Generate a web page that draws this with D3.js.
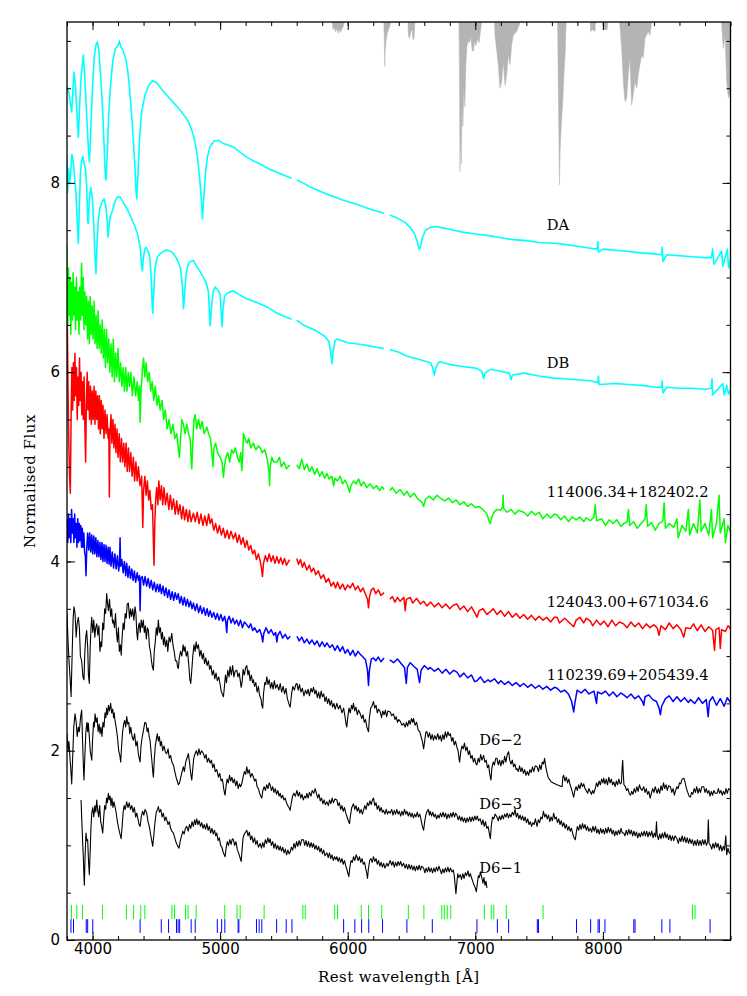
<!DOCTYPE html>
<html><head><meta charset="utf-8">
<script src="https://cdn.jsdelivr.net/npm/d3@7"></script>
<style>body{margin:0;background:#fff}svg{display:block}</style>
</head><body><svg id="c" width="747" height="996"></svg>
<script>
// ---------------- DATA ----------------
const xTicks=[4000,5000,6000,7000,8000];
const yTicks=[0,2,4,6,8];
const xLabel="Rest wavelength [Å]";
const yLabel="Normalised Flux";

const specDA=[[3800,9.02],[3815,8.95],[3825,8.85],[3837,8.75],[3845,8.95],[3855,9.17],[3865,9.05],[3875,8.8],[3889,8.48],[3900,8.85],[3912,9.15],[3928,9.35],[3940,9.1],[3955,8.7],[3968,8.35],[3975,8.22],[3985,8.5],[3998,8.95],[4012,9.3],[4025,9.45],[4038,9.49],[4050,9.4],[4065,9.1],[4080,8.75],[4092,8.35],[4101,8.05],[4106,8.03],[4115,8.3],[4128,8.75],[4142,9.05],[4160,9.3],[4180,9.42],[4200,9.45],[4210,9.5],[4222,9.44],[4240,9.4],[4258,9.32],[4275,9.2],[4290,9.0],[4305,8.75],[4320,8.45],[4333,8.15],[4342,7.9],[4347,7.83],[4355,8.05],[4368,8.45],[4385,8.75],[4410,8.92],[4440,9.03],[4470,9.08],[4500,9.06],[4530,9.01],[4560,8.96],[4600,8.9],[4640,8.84],[4680,8.78],[4720,8.71],[4750,8.65],[4780,8.55],[4800,8.45],[4820,8.3],[4840,8.05],[4855,7.78],[4862,7.62],[4870,7.8],[4885,8.1],[4900,8.27],[4920,8.38],[4950,8.44],[4987,8.45],[5020,8.42],[5060,8.40],[5104,8.38],[5150,8.33],[5200,8.28],[5250,8.24],[5314,8.20],[5380,8.15],[5450,8.11],[5500,8.08],[5560,8.05],[5580,null],[5600,8.03],[5650,8.0],[5700,7.96],[5770,7.92],[5837,7.88],[5900,7.85],[5960,7.82],[6030,7.79],[6098,7.76],[6160,7.73],[6230,7.70],[6285,7.68],[6310,null],[6330,7.66],[6400,7.62],[6450,7.58],[6490,7.53],[6520,7.47],[6545,7.38],[6560,7.3],[6570,7.32],[6585,7.42],[6610,7.5],[6647,7.53],[6700,7.54],[6725,7.53],[6800,7.51],[6900,7.48],[7000,7.46],[7118,7.44],[7200,7.42],[7300,7.40],[7400,7.39],[7500,7.37],[7641,7.36],[7700,7.35],[7800,7.33],[7900,7.31],[7955,7.30],[7960,7.38],[7965,7.27],[8000,7.30],[8163,7.28],[8300,7.26],[8400,7.25],[8460,7.24],[8465,7.32],[8470,7.17],[8500,7.24],[8600,7.23],[8700,7.22],[8800,7.21],[8850,7.21],[8860,7.3],[8870,7.14],[8900,7.21],[8930,7.28],[8940,7.12],[8960,7.22],[8975,7.3],[8985,7.1],[9000,7.19]];

const specDB=[[3800,8.3],[3805,7.9],[3812,8.15],[3820,8.0],[3828,8.1],[3838,8.3],[3850,8.22],[3860,8.05],[3870,7.9],[3880,7.6],[3889,7.36],[3897,7.75],[3905,8.1],[3915,8.24],[3925,8.28],[3935,8.2],[3945,8.15],[3955,7.95],[3962,7.6],[3967,7.57],[3975,7.82],[3986,7.95],[3998,7.85],[4010,7.55],[4020,7.2],[4027,7.04],[4035,7.35],[4045,7.6],[4059,7.74],[4075,7.8],[4090,7.83],[4105,7.75],[4115,7.6],[4122,7.43],[4130,7.55],[4140,7.65],[4155,7.7],[4175,7.8],[4195,7.85],[4216,7.85],[4240,7.8],[4260,7.75],[4280,7.7],[4300,7.64],[4330,7.55],[4355,7.45],[4375,7.3],[4385,7.12],[4391,7.07],[4398,7.2],[4410,7.3],[4420,7.32],[4435,7.28],[4448,7.22],[4460,7.0],[4468,6.7],[4472,6.62],[4478,6.8],[4490,7.1],[4508,7.22],[4530,7.25],[4560,7.28],[4582,7.29],[4610,7.28],[4630,7.26],[4660,7.2],[4690,7.1],[4705,6.9],[4713,6.67],[4720,6.8],[4735,7.05],[4751,7.15],[4770,7.17],[4791,7.18],[4815,7.12],[4840,7.07],[4869,7.0],[4890,6.95],[4908,6.85],[4918,6.6],[4923,6.49],[4930,6.65],[4945,6.85],[4961,6.9],[4987,6.86],[5000,6.82],[5010,6.6],[5016,6.48],[5022,6.65],[5035,6.8],[5052,6.83],[5080,6.85],[5104,6.86],[5150,6.82],[5200,6.78],[5260,6.75],[5314,6.72],[5380,6.68],[5450,6.62],[5500,6.59],[5560,6.56],[5580,null],[5600,6.55],[5650,6.5],[5700,6.47],[5750,6.44],[5784,6.41],[5820,6.38],[5850,6.33],[5866,6.22],[5876,6.09],[5884,6.2],[5900,6.33],[5915,6.35],[5960,6.33],[6000,6.31],[6060,6.3],[6120,6.29],[6200,6.27],[6285,6.25],[6310,null],[6330,6.24],[6400,6.21],[6460,6.17],[6520,6.15],[6595,6.12],[6650,6.1],[6665,6.05],[6678,5.97],[6690,6.04],[6710,6.1],[6725,6.11],[6800,6.08],[6900,6.06],[7013,6.04],[7050,6.01],[7065,5.93],[7075,5.99],[7118,6.03],[7200,6.01],[7265,5.99],[7281,5.92],[7290,5.97],[7379,5.99],[7500,5.96],[7600,5.94],[7700,5.93],[7800,5.92],[7902,5.91],[7960,5.89],[7965,5.96],[7970,5.87],[8100,5.88],[8200,5.87],[8300,5.86],[8425,5.84],[8460,5.84],[8465,5.91],[8470,5.78],[8500,5.84],[8600,5.83],[8700,5.83],[8800,5.82],[8850,5.83],[8855,5.93],[8860,5.76],[8900,5.82],[8940,5.88],[8950,5.76],[8970,5.86],[8985,5.77],[9000,5.81]];

const specG=[[3800,7.35],[3806,6.5],[3812,7.1],[3818,6.6],[3824,7.0],[3830,6.4],[3836,6.95],[3842,6.55],[3848,7.05],[3855,6.6],[3861,6.9],[3867,6.45],[3874,7.0],[3880,6.55],[3887,6.85],[3894,6.4],[3900,6.9],[3907,6.55],[3914,7.15],[3920,6.6],[3927,7.0],[3933,6.45],[3940,6.85],[3947,6.5],[3954,6.8],[3961,6.35],[3968,6.75],[3975,6.3],[3982,6.8],[3990,6.4],[3997,6.7],[4004,6.35],[4012,6.75],[4020,6.3],[4028,6.6],[4036,6.25],[4044,6.65],[4052,6.25],[4060,6.5],[4068,6.2],[4076,6.55],[4085,6.15],[4093,6.45],[4101,6.05],[4110,6.45],[4118,6.1],[4127,6.35],[4136,6.0],[4145,6.3],[4154,5.95],[4163,6.35],[4172,5.9],[4181,6.2],[4190,5.95],[4200,6.25],[4210,5.9],[4220,6.1],[4230,5.85],[4240,6.05],[4250,5.8],[4260,6.05],[4270,5.8],[4280,6.0],[4290,5.85],[4300,6.0],[4312,5.75],[4325,5.95],[4338,5.75],[4350,5.9],[4360,5.7],[4368,5.85],[4373,5.47],[4380,5.8],[4390,6.0],[4400,6.15],[4410,5.95],[4420,6.1],[4432,5.9],[4444,6.0],[4456,5.8],[4468,5.9],[4480,5.7],[4492,5.85],[4505,5.65],[4518,5.75],[4530,5.6],[4545,5.7],[4558,5.5],[4570,5.6],[4585,5.4],[4600,5.5],[4615,5.35],[4630,5.45],[4645,5.3],[4660,5.35],[4672,5.2],[4681,5.1],[4690,5.3],[4700,5.5],[4712,5.45],[4725,5.35],[4739,5.45],[4752,5.35],[4765,5.3],[4774,5.05],[4778,4.98],[4784,5.2],[4795,5.5],[4805,5.55],[4817,5.4],[4830,5.5],[4845,5.4],[4860,5.48],[4875,5.35],[4896,5.42],[4910,5.35],[4925,5.3],[4935,5.15],[4944,5.0],[4952,5.2],[4965,5.25],[4980,5.15],[5000,5.1],[5015,5.05],[5026,4.89],[5034,5.0],[5045,5.1],[5060,5.15],[5075,5.05],[5090,5.18],[5104,5.14],[5120,5.2],[5135,5.1],[5150,5.05],[5162,5.15],[5170,4.96],[5176,5.1],[5183,5.35],[5195,5.3],[5210,5.25],[5225,5.3],[5240,5.2],[5260,5.25],[5280,5.18],[5300,5.22],[5314,5.2],[5330,5.15],[5350,5.18],[5370,5.08],[5383,4.95],[5387,4.8],[5393,5.0],[5405,5.1],[5420,5.05],[5445,5.05],[5465,5.1],[5480,5.0],[5500,5.05],[5520,4.98],[5545,5.02],[5575,null],[5600,5.02],[5620,4.98],[5640,5.08],[5660,4.97],[5680,5.03],[5700,4.95],[5720,5.0],[5740,4.92],[5760,4.98],[5780,4.9],[5800,4.95],[5820,4.88],[5837,4.93],[5855,4.87],[5875,4.9],[5890,4.8],[5900,4.88],[5920,4.85],[5940,4.9],[5960,4.82],[5980,4.86],[6000,4.8],[6014,4.73],[6025,4.8],[6045,4.85],[6065,4.82],[6085,4.87],[6105,4.8],[6125,4.84],[6150,4.78],[6175,4.82],[6200,4.77],[6225,4.8],[6250,4.75],[6270,4.79],[6285,4.76],[6310,null],[6330,4.75],[6350,4.78],[6380,4.72],[6410,4.76],[6440,4.7],[6464,4.74],[6490,4.68],[6520,4.72],[6550,4.66],[6580,4.63],[6595,4.58],[6610,4.66],[6640,4.69],[6670,4.65],[6700,4.7],[6725,4.67],[6760,4.64],[6790,4.67],[6820,4.62],[6850,4.65],[6880,4.6],[6910,4.63],[6940,4.58],[6970,4.61],[7000,4.57],[7030,4.58],[7060,4.55],[7090,4.5],[7110,4.42],[7118,4.4],[7130,4.47],[7150,4.53],[7170,4.55],[7196,4.54],[7215,4.58],[7218,4.7],[7222,4.56],[7250,4.52],[7280,4.55],[7310,4.5],[7340,4.54],[7379,4.52],[7410,4.48],[7440,4.53],[7470,4.49],[7500,4.52],[7530,4.45],[7560,4.5],[7590,4.46],[7620,4.5],[7641,4.49],[7670,4.44],[7700,4.48],[7730,4.42],[7760,4.47],[7790,4.44],[7820,4.47],[7850,4.42],[7870,4.46],[7902,4.43],[7930,4.47],[7940,4.6],[7950,4.43],[7990,4.45],[8020,4.38],[8050,4.44],[8080,4.4],[8110,4.44],[8140,4.37],[8163,4.4],[8190,4.42],[8200,4.55],[8210,4.38],[8240,4.42],[8270,4.35],[8300,4.4],[8330,4.45],[8340,4.6],[8350,4.37],[8380,4.41],[8410,4.33],[8440,4.4],[8470,4.43],[8480,4.62],[8490,4.35],[8520,4.4],[8555,4.36],[8580,4.45],[8590,4.25],[8620,4.38],[8650,4.32],[8670,4.55],[8680,4.28],[8710,4.4],[8740,4.3],[8760,4.65],[8770,4.32],[8800,4.4],[8830,4.28],[8850,4.55],[8860,4.25],[8890,4.4],[8910,4.7],[8920,4.3],[8950,4.45],[8960,4.2],[8980,4.38],[9000,4.31]];

const specR=[[3800,6.85],[3805,6.2],[3810,5.6],[3815,5.2],[3820,4.9],[3826,4.72],[3832,5.5],[3838,6.05],[3844,5.6],[3850,6.1],[3856,5.7],[3862,6.2],[3868,5.75],[3874,6.05],[3880,5.5],[3886,5.95],[3892,5.65],[3898,6.15],[3904,5.7],[3910,6.0],[3916,5.55],[3922,5.9],[3928,5.5],[3934,5.95],[3940,5.45],[3946,5.05],[3952,5.7],[3958,6.0],[3964,5.6],[3970,5.9],[3977,5.5],[3984,5.85],[3991,5.45],[3998,5.8],[4005,5.5],[4012,5.85],[4019,5.45],[4026,5.8],[4033,5.5],[4040,5.75],[4047,5.4],[4054,5.75],[4061,5.35],[4068,5.7],[4075,5.4],[4082,5.65],[4090,5.3],[4098,5.6],[4106,5.35],[4114,5.55],[4122,5.3],[4128,5.4],[4132,4.68],[4137,5.35],[4145,5.55],[4152,5.25],[4160,5.5],[4168,5.2],[4176,5.45],[4184,5.15],[4192,5.4],[4200,5.1],[4209,5.35],[4218,5.05],[4227,5.3],[4236,5.05],[4245,5.25],[4254,5.0],[4263,5.25],[4272,4.95],[4281,5.2],[4290,4.95],[4300,5.15],[4310,4.9],[4320,5.1],[4330,4.85],[4340,5.05],[4350,4.85],[4360,5.0],[4372,4.8],[4385,4.9],[4394,4.36],[4400,4.75],[4410,4.9],[4420,4.7],[4430,4.85],[4440,4.65],[4450,4.75],[4460,4.55],[4470,4.6],[4477,4.2],[4482,3.96],[4488,4.4],[4495,4.65],[4503,4.78],[4512,4.6],[4520,4.85],[4530,4.65],[4540,4.8],[4550,4.6],[4560,4.78],[4572,4.6],[4585,4.72],[4598,4.55],[4610,4.7],[4622,4.55],[4635,4.66],[4648,4.5],[4660,4.64],[4672,4.5],[4685,4.6],[4698,4.45],[4710,4.58],[4722,4.44],[4735,4.55],[4748,4.42],[4760,4.54],[4772,4.42],[4791,4.51],[4805,4.42],[4820,4.52],[4835,4.4],[4850,4.5],[4865,4.38],[4880,4.48],[4895,4.38],[4910,4.5],[4922,4.4],[4935,4.45],[4950,4.33],[4965,4.4],[4980,4.3],[4995,4.38],[5010,4.28],[5025,4.35],[5040,4.25],[5055,4.33],[5070,4.24],[5085,4.32],[5104,4.24],[5120,4.3],[5135,4.2],[5150,4.28],[5165,4.18],[5180,4.25],[5195,4.15],[5210,4.22],[5225,4.12],[5240,4.17],[5255,4.08],[5270,4.12],[5285,4.02],[5300,4.08],[5315,4.0],[5325,3.92],[5332,3.84],[5340,3.98],[5355,4.06],[5370,4.0],[5385,4.08],[5400,4.0],[5415,4.06],[5430,3.98],[5445,4.05],[5460,3.98],[5475,4.04],[5490,3.97],[5505,4.03],[5520,3.96],[5545,4.02],[5575,null],[5600,4.03],[5615,3.97],[5630,4.02],[5645,3.94],[5660,3.99],[5680,3.91],[5700,3.96],[5715,3.89],[5732,3.93],[5750,3.86],[5770,3.9],[5790,3.82],[5810,3.86],[5830,3.78],[5850,3.82],[5870,3.74],[5889,3.78],[5905,3.72],[5920,3.78],[5940,3.71],[5960,3.76],[5980,3.7],[6000,3.75],[6020,3.72],[6040,3.77],[6060,3.7],[6080,3.74],[6100,3.68],[6120,3.72],[6140,3.65],[6155,3.6],[6163,3.51],[6170,3.62],[6185,3.7],[6202,3.72],[6220,3.66],[6240,3.7],[6260,3.64],[6285,3.67],[6310,null],[6330,3.6],[6350,3.63],[6370,3.57],[6390,3.62],[6410,3.58],[6440,3.62],[6451,3.48],[6460,3.6],[6490,3.62],[6510,3.56],[6540,3.61],[6570,3.55],[6595,3.58],[6620,3.53],[6650,3.57],[6680,3.52],[6710,3.56],[6740,3.51],[6770,3.55],[6800,3.5],[6830,3.54],[6856,3.55],[6880,3.49],[6910,3.53],[6940,3.47],[6970,3.52],[6995,3.46],[7013,3.41],[7030,3.48],[7060,3.5],[7090,3.44],[7118,3.47],[7140,3.5],[7170,3.44],[7200,3.48],[7230,3.42],[7260,3.47],[7290,3.41],[7320,3.45],[7350,3.4],[7379,3.44],[7410,3.39],[7440,3.43],[7470,3.38],[7500,3.42],[7530,3.38],[7560,3.41],[7590,3.36],[7620,3.41],[7641,3.41],[7660,3.35],[7700,3.4],[7740,3.35],[7771,3.31],[7790,3.38],[7820,3.41],[7850,3.35],[7870,3.4],[7902,3.37],[7920,3.32],[7950,3.38],[7980,3.33],[8010,3.37],[8040,3.31],[8070,3.38],[8100,3.32],[8130,3.36],[8163,3.34],[8190,3.3],[8220,3.36],[8250,3.31],[8280,3.35],[8310,3.29],[8340,3.34],[8370,3.3],[8400,3.33],[8425,3.3],[8440,3.22],[8455,3.32],[8490,3.28],[8520,3.35],[8550,3.29],[8580,3.33],[8610,3.28],[8634,3.2],[8650,3.3],[8686,3.29],[8710,3.34],[8740,3.27],[8770,3.33],[8800,3.26],[8830,3.31],[8860,3.27],[8875,3.06],[8885,3.28],[8910,3.3],[8920,3.08],[8930,3.28],[8960,3.26],[8980,3.32],[9000,3.29]];

const specB=[[3800,4.45],[3806,4.2],[3812,4.5],[3818,4.25],[3824,4.45],[3830,4.2],[3836,4.55],[3842,4.3],[3848,4.45],[3854,4.2],[3860,4.5],[3866,4.25],[3872,4.4],[3878,4.15],[3884,4.45],[3890,4.2],[3896,4.4],[3902,4.22],[3908,4.38],[3914,4.15],[3920,4.35],[3926,4.15],[3932,4.3],[3938,4.1],[3944,4.05],[3949,3.85],[3955,4.15],[3962,4.3],[3970,4.12],[3978,4.3],[3986,4.1],[3994,4.28],[4002,4.08],[4010,4.27],[4018,4.08],[4026,4.25],[4034,4.05],[4042,4.22],[4050,4.05],[4058,4.2],[4066,4.02],[4074,4.2],[4082,4.0],[4090,4.18],[4098,4.0],[4106,4.17],[4114,3.98],[4122,4.15],[4130,3.97],[4137,4.15],[4145,3.95],[4155,4.1],[4165,3.93],[4175,4.08],[4185,3.92],[4195,4.06],[4205,3.9],[4212,4.0],[4216,4.25],[4220,3.95],[4230,4.02],[4240,3.88],[4250,4.0],[4260,3.85],[4268,3.98],[4278,3.83],[4288,3.95],[4298,3.82],[4308,3.92],[4318,3.8],[4328,3.9],[4338,3.78],[4350,3.88],[4360,3.8],[4368,3.85],[4373,3.48],[4378,3.82],[4390,3.84],[4400,3.75],[4412,3.84],[4424,3.74],[4436,3.82],[4448,3.72],[4460,3.8],[4472,3.7],[4484,3.78],[4496,3.68],[4508,3.76],[4520,3.68],[4529,3.76],[4540,3.66],[4552,3.74],[4564,3.64],[4576,3.72],[4588,3.62],[4600,3.7],[4612,3.6],[4624,3.68],[4636,3.59],[4648,3.67],[4660,3.6],[4672,3.66],[4684,3.56],[4696,3.63],[4708,3.54],[4720,3.62],[4732,3.53],[4744,3.6],[4756,3.52],[4768,3.58],[4780,3.5],[4791,3.56],[4805,3.48],[4818,3.55],[4832,3.46],[4845,3.53],[4858,3.45],[4872,3.51],[4885,3.43],[4898,3.5],[4910,3.42],[4922,3.48],[4936,3.41],[4950,3.46],[4964,3.39],[4978,3.45],[4992,3.38],[5006,3.44],[5020,3.37],[5036,3.42],[5045,3.35],[5052,3.25],[5058,3.38],[5072,3.42],[5086,3.35],[5100,3.4],[5115,3.34],[5130,3.38],[5145,3.32],[5160,3.38],[5175,3.3],[5190,3.36],[5209,3.33],[5225,3.3],[5240,3.34],[5255,3.27],[5270,3.3],[5290,3.25],[5310,3.28],[5325,3.22],[5334,3.15],[5342,3.24],[5360,3.3],[5380,3.24],[5400,3.28],[5420,3.22],[5435,3.25],[5445,3.15],[5452,3.22],[5470,3.26],[5490,3.19],[5510,3.23],[5530,3.18],[5550,3.21],[5575,null],[5602,3.21],[5620,3.16],[5640,3.2],[5660,3.14],[5680,3.18],[5700,3.13],[5720,3.17],[5740,3.12],[5760,3.16],[5780,3.1],[5800,3.15],[5820,3.1],[5837,3.14],[5860,3.09],[5880,3.12],[5900,3.06],[5920,3.11],[5940,3.05],[5960,3.1],[5980,3.03],[6000,3.07],[6020,3.01],[6040,3.06],[6060,3.0],[6080,3.05],[6098,3.02],[6120,2.99],[6140,2.96],[6155,2.85],[6163,2.69],[6170,2.85],[6185,2.97],[6202,2.98],[6220,2.95],[6240,2.99],[6260,2.94],[6285,2.98],[6310,null],[6330,2.96],[6360,2.93],[6390,2.97],[6420,2.92],[6445,2.88],[6459,2.71],[6468,2.88],[6490,2.93],[6520,2.89],[6545,2.86],[6563,2.72],[6575,2.85],[6600,2.9],[6630,2.86],[6647,2.88],[6680,2.84],[6710,2.87],[6740,2.82],[6770,2.86],[6800,2.81],[6830,2.85],[6856,2.83],[6880,2.78],[6910,2.82],[6940,2.77],[6970,2.8],[6995,2.73],[7013,2.74],[7040,2.78],[7070,2.72],[7100,2.75],[7118,2.73],[7150,2.76],[7180,2.71],[7200,2.74],[7230,2.7],[7260,2.73],[7290,2.69],[7320,2.72],[7350,2.68],[7379,2.71],[7410,2.67],[7440,2.7],[7470,2.66],[7500,2.69],[7530,2.65],[7560,2.68],[7590,2.64],[7620,2.67],[7641,2.66],[7670,2.62],[7700,2.64],[7730,2.6],[7755,2.52],[7771,2.41],[7780,2.5],[7798,2.64],[7830,2.61],[7860,2.65],[7890,2.6],[7930,2.63],[7950,2.5],[7958,2.62],[7990,2.6],[8020,2.63],[8050,2.58],[8080,2.62],[8110,2.57],[8140,2.61],[8163,2.59],[8190,2.56],[8220,2.6],[8250,2.55],[8280,2.58],[8310,2.52],[8320,2.48],[8330,2.57],[8360,2.59],[8390,2.54],[8420,2.52],[8440,2.45],[8451,2.38],[8460,2.47],[8490,2.55],[8520,2.58],[8550,2.52],[8580,2.57],[8610,2.52],[8640,2.56],[8670,2.51],[8686,2.54],[8720,2.5],[8750,2.56],[8780,2.5],[8810,2.54],[8825,2.36],[8835,2.52],[8860,2.57],[8890,2.48],[8920,2.55],[8950,2.47],[8975,2.56],[9000,2.51]];

const specD62=[[3800,3.45],[3810,3.1],[3818,2.9],[3825,2.75],[3832,2.57],[3840,3.0],[3848,3.4],[3855,3.52],[3863,3.45],[3872,3.2],[3880,3.35],[3889,3.41],[3897,3.3],[3905,3.0],[3915,2.95],[3925,2.78],[3933,2.75],[3940,3.05],[3947,3.2],[3954,3.27],[3962,3.1],[3968,2.8],[3975,2.71],[3982,3.1],[3988,3.3],[3994,3.41],[4002,3.25],[4010,3.38],[4018,3.2],[4025,3.3],[4033,3.34],[4042,3.22],[4050,3.32],[4058,3.05],[4066,3.15],[4072,3.1],[4080,3.35],[4088,3.28],[4095,3.5],[4103,3.45],[4111,3.66],[4118,3.55],[4125,3.48],[4133,3.6],[4142,3.42],[4150,3.5],[4157,3.35],[4163,3.38],[4172,3.3],[4180,3.45],[4188,3.25],[4195,3.15],[4203,3.3],[4210,3.05],[4218,3.12],[4225,3.01],[4232,3.2],[4240,3.35],[4248,3.28],[4256,3.45],[4264,3.4],[4272,3.55],[4281,3.56],[4290,3.4],[4298,3.5],[4306,3.42],[4315,3.5],[4324,3.38],[4333,3.52],[4340,3.45],[4347,3.25],[4353,3.17],[4359,3.3],[4366,3.35],[4374,3.25],[4382,3.38],[4390,3.3],[4398,3.38],[4406,3.25],[4414,3.32],[4422,3.18],[4430,3.3],[4438,3.27],[4446,3.1],[4454,3.05],[4462,2.95],[4470,2.88],[4477,2.85],[4484,3.05],[4492,3.15],[4500,3.3],[4508,3.22],[4516,3.38],[4524,3.25],[4532,3.3],[4540,3.18],[4548,3.25],[4556,3.12],[4564,3.2],[4572,3.1],[4582,3.17],[4590,3.05],[4600,3.2],[4610,3.15],[4621,3.24],[4630,3.12],[4640,3.05],[4650,2.95],[4660,2.95],[4667,2.88],[4673,2.87],[4680,2.98],[4690,3.05],[4700,3.0],[4710,3.12],[4718,3.05],[4725,3.1],[4735,3.0],[4745,3.05],[4755,2.9],[4763,2.75],[4770,2.71],[4778,2.85],[4786,3.0],[4795,3.12],[4804,3.05],[4812,3.15],[4820,3.08],[4830,3.12],[4840,3.0],[4850,3.06],[4860,2.97],[4869,3.03],[4878,2.92],[4888,2.98],[4898,2.9],[4908,2.95],[4918,2.86],[4928,2.9],[4938,2.8],[4948,2.85],[4958,2.76],[4968,2.82],[4978,2.74],[4990,2.78],[5000,2.7],[5010,2.62],[5018,2.6],[5026,2.57],[5034,2.68],[5042,2.8],[5050,2.72],[5060,2.85],[5070,2.78],[5078,2.89],[5088,2.8],[5098,2.9],[5108,2.78],[5118,2.84],[5131,2.85],[5140,2.78],[5150,2.82],[5160,2.72],[5165,2.67],[5172,2.72],[5180,2.86],[5190,2.8],[5200,2.88],[5209,2.9],[5218,2.8],[5226,2.85],[5235,2.74],[5245,2.8],[5254,2.72],[5261,2.75],[5270,2.68],[5280,2.72],[5290,2.62],[5300,2.68],[5310,2.58],[5320,2.55],[5327,2.48],[5334,2.45],[5340,2.6],[5350,2.72],[5358,2.7],[5366,2.78],[5375,2.7],[5385,2.75],[5395,2.66],[5405,2.72],[5415,2.65],[5425,2.74],[5435,2.66],[5447,2.7],[5460,2.64],[5471,2.71],[5482,2.62],[5494,2.68],[5505,2.6],[5516,2.66],[5527,2.55],[5538,2.5],[5549,2.46],[5560,2.6],[5570,2.68],[5582,2.64],[5593,2.7],[5602,2.71],[5612,2.64],[5622,2.7],[5633,2.62],[5645,2.66],[5657,2.58],[5669,2.64],[5680,2.6],[5690,2.65],[5700,2.58],[5712,2.66],[5722,2.62],[5732,2.67],[5742,2.6],[5752,2.64],[5762,2.56],[5772,2.62],[5782,2.55],[5792,2.63],[5802,2.57],[5812,2.6],[5822,2.52],[5832,2.57],[5842,2.5],[5852,2.55],[5862,2.48],[5872,2.53],[5882,2.46],[5892,2.5],[5902,2.44],[5915,2.5],[5928,2.44],[5940,2.48],[5955,2.4],[5968,2.45],[5980,2.35],[5987,2.28],[5993,2.25],[6000,2.35],[6010,2.45],[6020,2.4],[6030,2.48],[6038,2.44],[6045,2.5],[6055,2.42],[6065,2.46],[6075,2.38],[6085,2.43],[6098,2.39],[6110,2.34],[6120,2.38],[6130,2.3],[6140,2.33],[6150,2.25],[6157,2.22],[6163,2.2],[6170,2.35],[6180,2.45],[6190,2.47],[6202,2.52],[6212,2.45],[6222,2.48],[6232,2.4],[6242,2.44],[6255,2.41],[6265,2.35],[6275,2.42],[6285,2.38],[6295,2.43],[6305,2.36],[6315,2.42],[6333,2.41],[6345,2.37],[6359,2.39],[6370,2.33],[6380,2.36],[6390,2.3],[6400,2.33],[6412,2.31],[6425,2.27],[6438,2.29],[6450,2.25],[6460,2.3],[6470,2.26],[6480,2.32],[6490,2.28],[6500,2.34],[6510,2.3],[6516,2.34],[6528,2.27],[6540,2.3],[6552,2.22],[6565,2.2],[6575,2.15],[6585,2.1],[6595,2.02],[6605,2.12],[6613,2.2],[6621,2.2],[6632,2.14],[6642,2.19],[6652,2.12],[6662,2.17],[6672,2.11],[6682,2.16],[6694,2.12],[6706,2.18],[6715,2.12],[6725,2.16],[6735,2.1],[6745,2.17],[6755,2.12],[6765,2.2],[6775,2.14],[6785,2.2],[6795,2.16],[6804,2.18],[6815,2.1],[6825,2.14],[6835,2.06],[6845,2.1],[6855,2.04],[6865,2.0],[6872,1.92],[6877,1.88],[6885,1.98],[6895,2.05],[6905,2.02],[6915,2.08],[6925,2.0],[6935,2.04],[6945,1.96],[6955,2.0],[6965,1.92],[6975,1.95],[6985,1.88],[6995,1.92],[7005,1.86],[7013,1.85],[7022,1.92],[7032,1.88],[7042,1.96],[7052,1.9],[7065,1.95],[7075,1.88],[7085,1.9],[7095,1.82],[7105,1.85],[7112,1.76],[7118,1.72],[7123,1.69],[7130,1.82],[7140,1.88],[7150,1.85],[7160,1.92],[7170,1.92],[7180,1.85],[7190,1.9],[7200,1.84],[7210,1.9],[7220,1.86],[7230,1.94],[7240,1.88],[7250,1.96],[7261,1.99],[7270,1.9],[7280,1.86],[7290,1.9],[7300,1.83],[7310,1.86],[7320,1.8],[7327,1.81],[7337,1.78],[7347,1.84],[7357,1.78],[7367,1.82],[7377,1.76],[7387,1.8],[7397,1.74],[7408,1.78],[7418,1.74],[7428,1.8],[7438,1.77],[7448,1.83],[7458,1.78],[7470,1.84],[7484,1.83],[7495,1.78],[7505,1.85],[7515,1.8],[7525,1.88],[7535,1.86],[7543,1.92],[7550,1.85],[7560,1.78],[7570,1.72],[7580,1.7],[7596,1.67],[7640,1.64],[7680,1.62],[7686,1.72],[7693,1.74],[7703,1.68],[7713,1.72],[7723,1.66],[7733,1.7],[7743,1.64],[7753,1.6],[7763,1.55],[7771,1.51],[7780,1.58],[7790,1.62],[7800,1.58],[7810,1.64],[7820,1.6],[7830,1.66],[7840,1.62],[7850,1.65],[7860,1.6],[7870,1.58],[7880,1.55],[7890,1.6],[7900,1.57],[7910,1.54],[7920,1.58],[7928,1.55],[7940,1.6],[7950,1.66],[7960,1.62],[7970,1.68],[7980,1.64],[7990,1.7],[8000,1.66],[8006,1.71],[8016,1.65],[8026,1.7],[8036,1.64],[8046,1.72],[8056,1.66],[8066,1.7],[8076,1.64],[8085,1.67],[8095,1.62],[8105,1.68],[8115,1.64],[8125,1.7],[8135,1.65],[8145,1.66],[8150,1.8],[8155,1.9],[8160,1.75],[8165,1.64],[8176,1.62],[8186,1.58],[8196,1.6],[8206,1.55],[8216,1.53],[8226,1.57],[8236,1.54],[8246,1.6],[8256,1.56],[8266,1.62],[8276,1.57],[8286,1.64],[8296,1.6],[8306,1.58],[8320,1.62],[8330,1.56],[8340,1.6],[8350,1.54],[8360,1.57],[8370,1.5],[8380,1.55],[8390,1.6],[8400,1.56],[8410,1.62],[8425,1.55],[8435,1.6],[8445,1.55],[8455,1.63],[8465,1.58],[8475,1.66],[8485,1.6],[8495,1.64],[8505,1.58],[8515,1.63],[8529,1.62],[8540,1.56],[8550,1.6],[8560,1.53],[8570,1.58],[8580,1.62],[8590,1.6],[8600,1.66],[8610,1.65],[8620,1.7],[8634,1.71],[8645,1.66],[8655,1.6],[8665,1.56],[8675,1.52],[8686,1.51],[8695,1.56],[8705,1.54],[8715,1.6],[8725,1.56],[8735,1.62],[8745,1.55],[8755,1.6],[8765,1.56],[8775,1.62],[8790,1.62],[8800,1.56],[8810,1.6],[8820,1.55],[8830,1.58],[8840,1.52],[8850,1.57],[8860,1.53],[8870,1.58],[8880,1.55],[8895,1.55],[8905,1.6],[8915,1.55],[8925,1.58],[8935,1.53],[8945,1.57],[8955,1.54],[8965,1.6],[8975,1.55],[8985,1.6],[9000,1.58]];

const specD63=[[3800,2.18],[3808,2.0],[3815,2.1],[3822,1.95],[3830,1.8],[3837,1.65],[3845,1.95],[3853,2.25],[3863,2.39],[3872,2.3],[3880,2.15],[3889,2.25],[3897,2.2],[3906,2.35],[3915,2.43],[3922,2.1],[3928,1.85],[3933,1.69],[3940,1.95],[3948,2.2],[3956,2.3],[3962,2.2],[3967,2.29],[3975,2.15],[3982,2.0],[3988,1.95],[3994,1.9],[4000,2.1],[4008,2.3],[4014,2.25],[4020,2.39],[4028,2.3],[4036,2.35],[4044,2.2],[4052,2.28],[4059,2.18],[4066,2.25],[4074,2.15],[4082,2.3],[4090,2.25],[4098,2.4],[4105,2.35],[4111,2.45],[4118,2.38],[4125,2.48],[4133,2.42],[4142,2.5],[4150,2.4],[4158,2.44],[4165,2.35],[4170,2.4],[4176,2.32],[4185,2.25],[4195,2.15],[4205,2.0],[4214,1.95],[4221,1.88],[4228,2.05],[4236,2.2],[4244,2.28],[4252,2.32],[4260,2.25],[4268,2.36],[4276,2.28],[4284,2.3],[4292,2.18],[4300,2.25],[4310,2.15],[4320,2.11],[4330,2.18],[4340,2.05],[4350,2.1],[4358,1.98],[4366,1.92],[4373,1.88],[4380,2.05],[4390,2.15],[4400,2.22],[4410,2.3],[4420,2.29],[4428,2.2],[4436,2.24],[4444,2.15],[4451,2.11],[4458,2.0],[4465,1.9],[4472,1.78],[4477,1.72],[4484,1.9],[4492,2.05],[4500,2.12],[4508,2.18],[4516,2.1],[4524,2.15],[4532,2.05],[4540,2.1],[4550,2.0],[4560,2.05],[4572,1.98],[4582,1.97],[4592,2.02],[4602,1.92],[4612,1.95],[4622,1.88],[4634,1.85],[4645,1.78],[4655,1.72],[4664,1.68],[4673,1.64],[4682,1.66],[4692,1.72],[4702,1.78],[4712,1.83],[4720,1.78],[4730,1.88],[4740,1.92],[4751,1.97],[4760,1.88],[4768,1.78],[4774,1.72],[4778,1.69],[4785,1.8],[4793,1.92],[4804,1.97],[4814,2.0],[4824,1.95],[4834,2.02],[4844,1.96],[4855,2.0],[4869,1.97],[4880,1.92],[4890,1.96],[4900,1.88],[4910,1.92],[4922,1.87],[4932,1.9],[4942,1.82],[4952,1.86],[4962,1.78],[4974,1.8],[4987,1.72],[4997,1.76],[5008,1.68],[5018,1.7],[5028,1.6],[5035,1.55],[5039,1.53],[5046,1.62],[5055,1.7],[5064,1.66],[5074,1.74],[5083,1.68],[5092,1.72],[5102,1.66],[5112,1.7],[5122,1.63],[5132,1.68],[5142,1.6],[5152,1.65],[5160,1.62],[5170,1.65],[5180,1.72],[5190,1.78],[5200,1.75],[5209,1.83],[5218,1.76],[5228,1.8],[5238,1.72],[5250,1.76],[5261,1.72],[5270,1.68],[5280,1.7],[5290,1.62],[5300,1.6],[5310,1.55],[5318,1.52],[5327,1.5],[5335,1.58],[5345,1.62],[5355,1.58],[5365,1.64],[5375,1.6],[5385,1.66],[5392,1.64],[5402,1.58],[5412,1.62],[5422,1.56],[5432,1.6],[5442,1.54],[5452,1.58],[5462,1.52],[5471,1.55],[5480,1.5],[5490,1.53],[5500,1.48],[5510,1.5],[5520,1.45],[5530,1.42],[5540,1.4],[5549,1.37],[5558,1.45],[5568,1.52],[5578,1.55],[5590,1.52],[5602,1.58],[5612,1.52],[5622,1.56],[5632,1.5],[5642,1.54],[5652,1.48],[5662,1.52],[5672,1.5],[5680,1.55],[5690,1.5],[5700,1.56],[5712,1.52],[5722,1.58],[5734,1.55],[5745,1.6],[5755,1.55],[5765,1.5],[5775,1.54],[5785,1.47],[5795,1.5],[5805,1.44],[5815,1.48],[5825,1.43],[5837,1.46],[5848,1.42],[5858,1.48],[5868,1.44],[5878,1.5],[5888,1.45],[5900,1.49],[5915,1.48],[5925,1.42],[5935,1.45],[5945,1.38],[5955,1.42],[5965,1.36],[5975,1.4],[5985,1.34],[5995,1.3],[6005,1.26],[6014,1.23],[6022,1.32],[6032,1.4],[6045,1.44],[6055,1.38],[6065,1.42],[6075,1.36],[6085,1.4],[6095,1.34],[6105,1.38],[6115,1.33],[6124,1.37],[6134,1.42],[6144,1.38],[6154,1.45],[6164,1.42],[6174,1.47],[6184,1.43],[6194,1.48],[6202,1.5],[6212,1.42],[6222,1.45],[6232,1.38],[6242,1.42],[6252,1.36],[6262,1.4],[6272,1.35],[6281,1.37],[6292,1.33],[6302,1.38],[6312,1.33],[6322,1.36],[6333,1.34],[6345,1.38],[6355,1.32],[6365,1.37],[6375,1.33],[6385,1.38],[6395,1.33],[6405,1.36],[6415,1.31],[6425,1.36],[6435,1.32],[6445,1.38],[6455,1.33],[6464,1.36],[6475,1.31],[6485,1.35],[6495,1.3],[6505,1.34],[6515,1.29],[6525,1.33],[6535,1.3],[6545,1.35],[6555,1.3],[6565,1.33],[6575,1.27],[6585,1.2],[6595,1.16],[6603,1.25],[6612,1.32],[6622,1.36],[6632,1.38],[6640,1.32],[6647,1.36],[6657,1.31],[6667,1.35],[6677,1.3],[6687,1.33],[6697,1.28],[6707,1.32],[6717,1.29],[6727,1.34],[6737,1.3],[6747,1.35],[6757,1.3],[6767,1.34],[6777,1.28],[6787,1.33],[6797,1.29],[6807,1.34],[6817,1.3],[6827,1.35],[6837,1.3],[6847,1.34],[6856,1.32],[6866,1.27],[6876,1.31],[6886,1.26],[6896,1.3],[6906,1.25],[6916,1.29],[6926,1.24],[6936,1.29],[6946,1.25],[6956,1.3],[6966,1.25],[6976,1.3],[6986,1.26],[6996,1.31],[7006,1.27],[7016,1.31],[7026,1.26],[7039,1.28],[7050,1.22],[7060,1.27],[7070,1.2],[7080,1.25],[7090,1.18],[7100,1.2],[7108,1.14],[7113,1.1],[7118,1.07],[7125,1.2],[7135,1.3],[7145,1.28],[7155,1.33],[7170,1.3],[7180,1.26],[7190,1.31],[7200,1.27],[7210,1.32],[7220,1.28],[7230,1.33],[7240,1.3],[7250,1.34],[7260,1.29],[7270,1.33],[7280,1.3],[7290,1.35],[7301,1.32],[7311,1.38],[7321,1.3],[7331,1.34],[7341,1.28],[7351,1.32],[7361,1.27],[7371,1.31],[7381,1.26],[7391,1.3],[7401,1.24],[7411,1.28],[7421,1.22],[7431,1.25],[7441,1.2],[7451,1.24],[7461,1.22],[7471,1.28],[7484,1.2],[7494,1.27],[7504,1.24],[7514,1.3],[7524,1.28],[7534,1.36],[7544,1.3],[7554,1.33],[7564,1.28],[7574,1.32],[7584,1.25],[7594,1.3],[7604,1.26],[7614,1.34],[7624,1.28],[7634,1.3],[7644,1.24],[7654,1.28],[7664,1.22],[7674,1.26],[7684,1.2],[7694,1.24],[7704,1.18],[7714,1.22],[7724,1.16],[7734,1.2],[7744,1.15],[7754,1.18],[7764,1.12],[7774,1.08],[7784,1.06],[7792,1.14],[7800,1.2],[7810,1.16],[7820,1.22],[7830,1.17],[7840,1.23],[7850,1.18],[7860,1.22],[7870,1.16],[7880,1.2],[7890,1.15],[7902,1.18],[7912,1.14],[7922,1.2],[7932,1.15],[7942,1.2],[7952,1.13],[7962,1.17],[7972,1.12],[7982,1.18],[7992,1.13],[8002,1.17],[8012,1.12],[8022,1.18],[8032,1.13],[8042,1.19],[8052,1.14],[8062,1.18],[8072,1.12],[8082,1.16],[8092,1.1],[8102,1.15],[8112,1.11],[8122,1.16],[8132,1.12],[8142,1.18],[8152,1.13],[8163,1.13],[8173,1.1],[8183,1.16],[8193,1.11],[8203,1.17],[8213,1.12],[8223,1.16],[8233,1.1],[8243,1.15],[8253,1.1],[8263,1.14],[8273,1.08],[8283,1.13],[8293,1.09],[8303,1.14],[8313,1.1],[8323,1.15],[8333,1.1],[8343,1.15],[8353,1.09],[8363,1.14],[8373,1.1],[8383,1.15],[8393,1.08],[8403,1.13],[8413,1.09],[8420,1.25],[8425,1.11],[8435,1.06],[8445,1.12],[8455,1.07],[8465,1.13],[8475,1.08],[8485,1.14],[8495,1.08],[8505,1.12],[8515,1.06],[8525,1.11],[8535,1.05],[8545,1.1],[8555,1.05],[8565,1.1],[8581,1.07],[8591,1.02],[8601,1.08],[8611,1.04],[8621,1.1],[8631,1.04],[8641,1.09],[8651,1.03],[8661,1.08],[8671,1.02],[8681,1.07],[8691,1.02],[8701,1.06],[8711,1.0],[8721,1.05],[8731,1.0],[8741,1.06],[8751,1.0],[8761,1.05],[8771,1.0],[8781,1.06],[8791,1.01],[8801,1.06],[8811,1.0],[8821,1.04],[8826,1.27],[8832,1.02],[8843,1.0],[8853,0.96],[8863,1.02],[8873,0.97],[8883,1.03],[8893,0.98],[8903,1.02],[8913,0.95],[8923,1.0],[8933,0.94],[8943,0.99],[8953,0.95],[8963,1.1],[8970,0.9],[8980,0.97],[8990,0.92],[9000,0.92]];

const specD61=[[3910,1.48],[3918,1.2],[3925,0.95],[3928,0.88],[3932,0.7],[3936,0.58],[3942,0.9],[3949,1.13],[3955,1.05],[3962,1.06],[3968,0.85],[3975,0.69],[3982,0.95],[3988,1.2],[3994,1.34],[4002,1.4],[4010,1.3],[4018,1.42],[4026,1.35],[4033,1.48],[4040,1.38],[4048,1.3],[4056,1.42],[4064,1.25],[4072,1.2],[4080,1.13],[4088,1.3],[4095,1.42],[4103,1.38],[4110,1.5],[4117,1.45],[4124,1.55],[4131,1.48],[4138,1.52],[4145,1.42],[4152,1.5],[4160,1.4],[4168,1.46],[4176,1.41],[4185,1.35],[4195,1.25],[4205,1.18],[4215,1.12],[4224,1.07],[4232,1.2],[4240,1.35],[4248,1.42],[4256,1.38],[4268,1.46],[4278,1.4],[4288,1.45],[4298,1.38],[4308,1.42],[4318,1.35],[4328,1.4],[4338,1.3],[4347,1.34],[4356,1.28],[4365,1.22],[4373,1.2],[4382,1.3],[4392,1.36],[4402,1.32],[4412,1.38],[4425,1.34],[4435,1.25],[4445,1.2],[4455,1.12],[4464,1.05],[4472,0.99],[4480,1.1],[4490,1.25],[4500,1.35],[4510,1.38],[4516,1.41],[4525,1.35],[4535,1.38],[4545,1.3],[4555,1.34],[4566,1.26],[4576,1.3],[4582,1.27],[4592,1.22],[4602,1.25],[4612,1.18],[4622,1.15],[4634,1.13],[4645,1.08],[4655,1.03],[4665,1.0],[4678,0.97],[4688,1.05],[4698,1.1],[4708,1.15],[4718,1.12],[4728,1.18],[4739,1.2],[4750,1.15],[4760,1.22],[4770,1.18],[4780,1.25],[4790,1.2],[4800,1.27],[4808,1.22],[4817,1.28],[4826,1.22],[4836,1.26],[4846,1.2],[4856,1.24],[4866,1.18],[4876,1.22],[4886,1.17],[4896,1.23],[4906,1.16],[4916,1.2],[4926,1.13],[4936,1.18],[4946,1.12],[4956,1.16],[4966,1.1],[4974,1.13],[4984,1.05],[4994,1.08],[5004,1.0],[5014,0.98],[5024,0.93],[5032,0.9],[5039,0.88],[5046,0.96],[5056,1.04],[5066,1.0],[5076,1.06],[5086,1.01],[5096,1.07],[5104,1.06],[5114,1.0],[5124,1.04],[5134,0.96],[5144,0.92],[5154,0.88],[5160,0.85],[5165,0.83],[5172,0.95],[5180,1.08],[5190,1.12],[5200,1.14],[5209,1.16],[5219,1.1],[5229,1.14],[5239,1.06],[5249,1.1],[5259,1.03],[5270,1.08],[5280,1.01],[5290,1.05],[5300,0.98],[5314,1.02],[5324,0.97],[5334,1.03],[5344,0.98],[5354,1.06],[5364,1.02],[5374,1.08],[5384,1.03],[5392,1.07],[5402,1.0],[5412,1.04],[5422,0.97],[5432,1.02],[5442,0.96],[5452,1.0],[5462,0.95],[5471,0.99],[5481,0.94],[5491,0.98],[5501,0.92],[5511,0.96],[5521,0.9],[5531,0.95],[5541,0.91],[5549,0.93],[5559,0.98],[5569,0.95],[5579,1.02],[5589,0.97],[5599,1.04],[5609,0.99],[5619,1.05],[5629,1.0],[5639,1.06],[5653,1.06],[5663,1.0],[5673,1.05],[5683,0.99],[5693,1.04],[5703,0.98],[5713,1.03],[5723,0.98],[5732,1.02],[5742,0.96],[5752,1.0],[5762,0.95],[5772,0.99],[5782,0.93],[5792,0.97],[5802,0.91],[5812,0.95],[5822,0.89],[5837,0.92],[5847,0.87],[5857,0.92],[5867,0.86],[5877,0.9],[5887,0.84],[5897,0.88],[5907,0.85],[5915,0.88],[5925,0.83],[5935,0.87],[5945,0.82],[5955,0.86],[5965,0.8],[5975,0.84],[5985,0.78],[5995,0.74],[6002,0.7],[6009,0.67],[6016,0.76],[6026,0.84],[6036,0.82],[6046,0.88],[6056,0.84],[6066,0.9],[6072,0.88],[6082,0.84],[6092,0.88],[6102,0.82],[6112,0.86],[6122,0.8],[6132,0.82],[6142,0.75],[6150,0.7],[6155,0.65],[6162,0.75],[6172,0.84],[6182,0.86],[6192,0.82],[6202,0.88],[6212,0.83],[6222,0.86],[6232,0.8],[6242,0.84],[6252,0.78],[6262,0.82],[6272,0.77],[6282,0.81],[6292,0.76],[6307,0.81],[6317,0.78],[6333,0.84],[6345,0.79],[6355,0.83],[6365,0.77],[6375,0.82],[6385,0.78],[6395,0.83],[6405,0.79],[6415,0.83],[6425,0.78],[6438,0.81],[6450,0.76],[6460,0.8],[6470,0.75],[6480,0.8],[6490,0.75],[6500,0.79],[6510,0.74],[6520,0.78],[6530,0.73],[6540,0.78],[6550,0.74],[6560,0.79],[6570,0.74],[6580,0.78],[6595,0.76],[6605,0.71],[6615,0.76],[6625,0.72],[6635,0.77],[6645,0.72],[6655,0.76],[6665,0.71],[6675,0.76],[6685,0.72],[6695,0.77],[6705,0.73],[6715,0.78],[6725,0.74],[6735,0.7],[6745,0.75],[6755,0.71],[6765,0.76],[6775,0.72],[6785,0.77],[6795,0.72],[6805,0.76],[6817,0.72],[6827,0.74],[6835,0.68],[6842,0.58],[6848,0.49],[6855,0.6],[6862,0.7],[6870,0.66],[6882,0.69],[6892,0.64],[6902,0.7],[6912,0.65],[6922,0.71],[6932,0.68],[6942,0.73],[6952,0.67],[6961,0.7],[6970,0.66],[6980,0.62],[6990,0.58],[7000,0.55],[7008,0.51],[7016,0.6],[7024,0.68],[7032,0.66],[7040,0.72],[7052,0.65],[7060,0.6],[7068,0.66],[7076,0.58],[7084,0.62],[7091,0.55]];

// telluric absorption (depth below top of the panel, flux units)
const telluric=[[5870,0],[5880,0],[5885,0.08],[5895,0.06],[5905,0.1],[5915,0.07],[5925,0.12],[5935,0.08],[5945,0.11],[5955,0.07],[5965,0.05],[5970,0],[6283,0],[6287,0.2],[6290,0.47],[6294,0.3],[6300,0.2],[6310,0.12],[6320,0.08],[6330,0.05],[6337,0],[6472,0],[6476,0.15],[6485,0.17],[6495,0.1],[6505,0.08],[6512,0.19],[6520,0.17],[6527,0],[6872,0],[6876,0.6],[6880,1.58],[6884,1.2],[6890,1.5],[6896,0.9],[6903,1.1],[6910,0.7],[6918,0.9],[6926,0.45],[6935,0.25],[6945,0.2],[6955,0.22],[6965,0.15],[6975,0.3],[6985,0.31],[6995,0.2],[7005,0.25],[7015,0.18],[7030,0.22],[7040,0.1],[7050,0],[7150,0],[7154,0.14],[7180,0.45],[7193,0.7],[7207,0.63],[7219,0.42],[7233,0.67],[7246,0.56],[7259,0.35],[7272,0.45],[7285,0.24],[7298,0.14],[7324,0.1],[7345,0.03],[7350,0],[7645,0],[7652,0.9],[7660,1.72],[7665,1.35],[7670,1.2],[7678,1.0],[7685,0.85],[7695,0.55],[7705,0.3],[7712,0],[7900,0],[7904,0.1],[7920,0.08],[7938,0.1],[7942,0],[7998,0],[8003,0.08],[8034,0.08],[8038,0],[8130,0],[8134,0.05],[8147,0.28],[8160,0.63],[8173,0.84],[8186,0.81],[8199,0.56],[8212,0.38],[8225,0.88],[8238,0.77],[8251,0.63],[8265,0.7],[8277,0.56],[8290,0.45],[8304,0.35],[8316,0.38],[8330,0.17],[8356,0.1],[8369,0.14],[8382,0],[8928,0],[8931,0.02],[8943,0.28],[8957,0.14],[8970,0.63],[8983,0.8],[8996,0.75],[9000,0.7]];

const greenLines=[3835,3877,3922,4078,4265,4322,4378,4410,4622,4643,4729,4749,4812,5036,5133,5157,5345,5649,5667,5898,5920,6106,6163,6267,6475,6597,6737,6757,6780,6808,7071,7125,7145,7243,7531,8702,8722];
const blueLines=[3831,3851,3951,3962,4002,4373,4539,4596,4658,4671,4683,4773,4805,4978,5012,5037,5141,5147,5285,5306,5327,5443,5518,5563,5968,6056,6109,6165,6273,6464,6663,7013,7173,7261,7486,7495,7793,7904,7962,7972,8016,8242,8252,8462,8525,8840];

const seriesNames=["D6−1","D6−3","D6−2","110239.69+205439.4","124043.00+671034.6","114006.34+182402.2","DB","DA"];
// ---------------- DRAW ----------------
const series=[
 {data:specD61,color:"#000000",w:1.1},{data:specD63,color:"#000000",w:1.1},{data:specD62,color:"#000000",w:1.1},
 {data:specB,color:"#0000ff",w:1.5},{data:specR,color:"#ff0000",w:1.5},{data:specG,color:"#00ff00",w:1.5},
 {data:specDB,color:"#00ffff",w:1.6},{data:specDA,color:"#00ffff",w:1.6}];
// label anchors (wavelength of left edge, flux of baseline)
const labelAnchor=[[7031,0.71],[7031,1.38],[7031,2.06],[7560,2.75],[7560,3.52],[7560,4.68],[7560,6.04],[7560,7.50]];

const svg=d3.select("#c");
const L=67,R=730.5,T=22,B=940;
const x=d3.scaleLinear().domain([3800,9000]).range([L,R]);
const y=d3.scaleLinear().domain([0,9.7]).range([B,T]);
svg.append("rect").attr("width",747).attr("height",996).attr("fill","#fff");
svg.append("defs").append("clipPath").attr("id","clip").append("rect")
  .attr("x",L).attr("y",T).attr("width",R-L).attr("height",B-T);
const plot=svg.append("g").attr("clip-path","url(#clip)");

const area=d3.area().x(d=>x(d[0])).y0(y(9.7)).y1(d=>y(9.7-d[1]));
plot.append("path").datum(telluric).attr("d",area)
  .attr("fill","#b4b4b4").attr("stroke","#b4b4b4").attr("stroke-width",0.5);

const line=d3.line().defined(d=>d[1]!=null).x(d=>x(d[0])).y(d=>y(d[1]));
series.forEach(s=>{
  plot.append("path").datum(s.data).attr("d",line).attr("fill","none")
    .attr("stroke",s.color).attr("stroke-width",s.w).attr("stroke-linejoin","round");
});

plot.selectAll("line.gl").data(greenLines).join("line").attr("class","gl")
  .attr("x1",d=>x(d)).attr("x2",d=>x(d)).attr("y1",y(0.37)).attr("y2",y(0.22))
  .attr("stroke","#00ff00").attr("stroke-width",1);
plot.selectAll("line.bl").data(blueLines).join("line").attr("class","bl")
  .attr("x1",d=>x(d)).attr("x2",d=>x(d)).attr("y1",y(0.22)).attr("y2",y(0.075))
  .attr("stroke","#0000ff").attr("stroke-width",1);

// labels
svg.append("g").selectAll("text").data(seriesNames).join("text")
  .attr("x",(d,i)=>x(labelAnchor[i][0])).attr("y",(d,i)=>y(labelAnchor[i][1]))
  .attr("font-family","'DejaVu Serif',serif").attr("font-size",14.7).attr("fill","#000")
  .text(d=>d);

// axes
const minorX=d3.range(3800,9001,200), minorY=d3.range(0,9.71,0.5);
function ax(gen,tr,vals,size,fmt,pad){
  const g=svg.append("g").attr("transform",tr)
    .call(gen.tickValues(vals).tickSize(size).tickPadding(pad||3).tickFormat(fmt||""));
  g.select(".domain").remove();
  g.selectAll(".tick line").attr("stroke","#000").attr("stroke-width",1);
  g.selectAll("text").attr("font-family","'DejaVu Sans',sans-serif").attr("font-size",15).attr("fill","#000");
  return g;
}
ax(d3.axisBottom(x),`translate(0,${B})`,minorX,-4);
ax(d3.axisBottom(x),`translate(0,${B})`,xTicks,-8,d3.format("d"),3);
ax(d3.axisTop(x),`translate(0,${T})`,minorX,-4);
ax(d3.axisTop(x),`translate(0,${T})`,xTicks,-8);
ax(d3.axisLeft(y),`translate(${L},0)`,minorY,-4);
ax(d3.axisLeft(y),`translate(${L},0)`,yTicks,-8,d3.format("d"),7);
ax(d3.axisRight(y),`translate(${R},0)`,minorY,-4);
ax(d3.axisRight(y),`translate(${R},0)`,yTicks,-8);

svg.append("rect").attr("x",L).attr("y",T).attr("width",R-L).attr("height",B-T)
  .attr("fill","none").attr("stroke","#000").attr("stroke-width",1.3);

svg.append("text").attr("x",(L+R)/2).attr("y",982).attr("text-anchor","middle")
  .attr("font-family","'DejaVu Serif',serif").attr("font-size",15).attr("letter-spacing",0.4)
  .text(xLabel);
svg.append("text").attr("transform",`translate(35,${(T+B)/2}) rotate(-90)`).attr("text-anchor","middle")
  .attr("font-family","'DejaVu Serif',serif").attr("font-size",15).attr("letter-spacing",0.5)
  .text(yLabel);
</script></body></html>
